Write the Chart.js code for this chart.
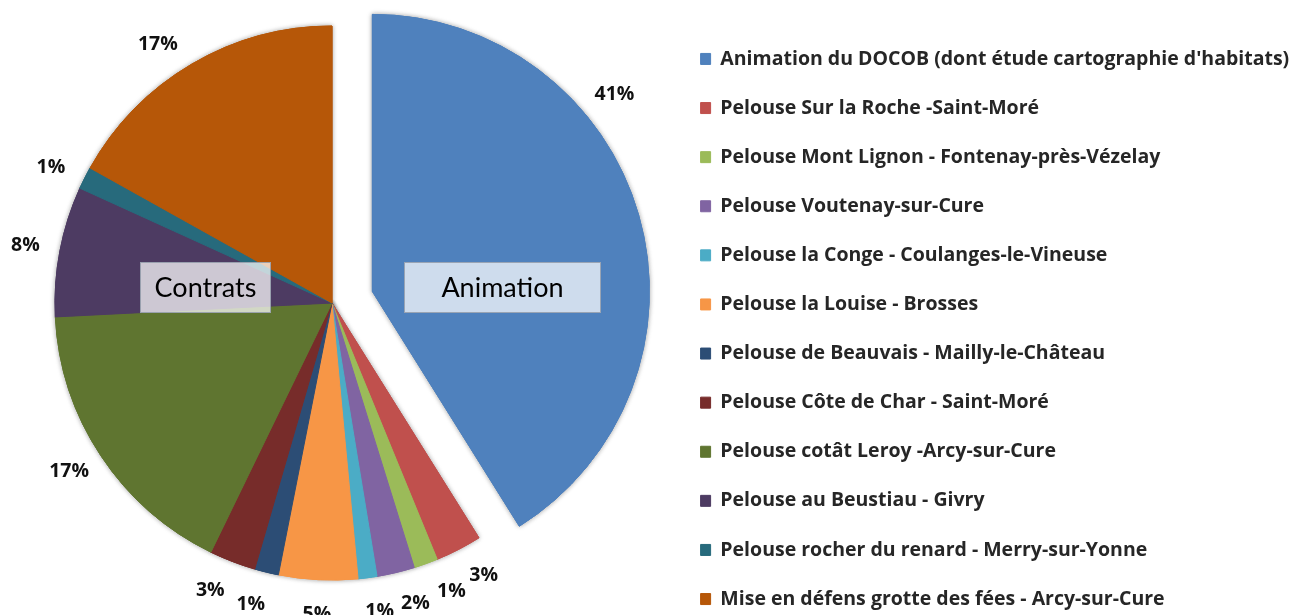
<!DOCTYPE html>
<html>
<head>
<meta charset="utf-8">
<script src="https://cdn.jsdelivr.net/npm/chart.js@4.4.1/dist/chart.umd.min.js"></script>
<style>
html,body{margin:0;padding:0;background:#fff;overflow:hidden;width:1296px;height:615px;}
#wrap{position:absolute;left:-7px;top:0;}
canvas{display:block;}
</style>
</head>
<body>
<div id="wrap"><canvas id="c"></canvas></div>
<script>
// ---- data ----
const categories = [
  "Animation du DOCOB (dont étude cartographie d'habitats)",
  "Pelouse Sur la Roche -Saint-Moré",
  "Pelouse Mont Lignon - Fontenay-près-Vézelay",
  "Pelouse Voutenay-sur-Cure",
  "Pelouse la Conge - Coulanges-le-Vineuse",
  "Pelouse la Louise - Brosses",
  "Pelouse de Beauvais - Mailly-le-Château",
  "Pelouse Côte de Char - Saint-Moré",
  "Pelouse cotât Leroy -Arcy-sur-Cure",
  "Pelouse au Beustiau - Givry",
  "Pelouse rocher du renard - Merry-sur-Yonne",
  "Mise en défens grotte des fées - Arcy-sur-Cure"
];
const shares = [41.1, 2.7, 1.4, 2.2, 1.1, 4.6, 1.4, 2.7, 17.0, 7.6, 1.3, 16.9];
const groupNames = ["Contrats", "Animation"];

// ---- styles ----
const colors = ['#4F81BD','#C0504D','#9BBB59','#8064A2','#4BACC6','#F79646',
                '#2C4D75','#772C2A','#5F7530','#4D3B62','#276A7C','#B65708'];
const EXPLODE = [42,0,0,0,0,0,0,0,0,0,0,0];
const PIE_R = 277;
const FONT = '"Open Sans"';
const LEG_FS = 19.5, LEG_PITCH = 49.1, LEG_BOXW = 10, LEG_BOXH = 11;
const LEG_PAD = LEG_PITCH - LEG_FS;
const FIRST_BOX_TOP = 52.7;
const Y0 = FIRST_BOX_TOP + 0.5 - (LEG_FS - LEG_BOXH) / 2;
const CANVAS_H = Math.round(2 * Y0 - LEG_PAD + categories.length * LEG_PITCH);
const CANVAS_W = 1340;
const CHART_RIGHT = 678;   // left edge of the legend box (canvas px)
const PIE_CY = 303;
const TITLE_PAD = (CANVAS_H - 2 * PIE_CY - 12) / 2;

const canvas = document.getElementById('c');
canvas.width = CANVAS_W; canvas.height = CANVAS_H;
canvas.style.width = CANVAS_W + 'px'; canvas.style.height = CANVAS_H + 'px';

// legend width as Chart.js computes it, so the pie area ends where wanted
const mctx = canvas.getContext('2d');
mctx.font = 'bold ' + LEG_FS + 'px ' + FONT;
const maxTextW = Math.max(...categories.map(t => mctx.measureText(t).width));
const legendW = LEG_PAD + LEG_BOXW + LEG_FS / 2 + maxTextW + 10;
const PAD_R = CANVAS_W - CHART_RIGHT - legendW;

function explodeOf(i){ return EXPLODE[i] || 0; }

const explodePlugin = {
  id: 'explodeSlices',
  afterUpdate(chart) {
    const meta = chart.getDatasetMeta(0);
    meta.data.forEach((el, i) => {
      const off = explodeOf(i);
      if (!off || el._exploded) return;
      const orig = el.draw;
      el.draw = function(ctx) {
        const mid = (this.startAngle + this.endAngle) / 2;
        ctx.save();
        ctx.translate(Math.cos(mid) * off, Math.sin(mid) * off);
        orig.call(this, ctx);
        ctx.restore();
      };
      el._exploded = true;
    });
  },
  beforeDatasetsDraw(chart) {
    const ctx = chart.ctx;
    const meta = chart.getDatasetMeta(0);
    ctx.save();
    ctx.shadowColor = 'rgba(0,0,0,0.35)';
    ctx.shadowBlur = 5;
    meta.data.forEach(el => el.draw(ctx));
    ctx.restore();
  }
};

const labelPlugin = {
  id: 'pctLabels',
  afterDatasetsDraw(chart, args, opts) {
    const meta = chart.getDatasetMeta(0);
    const vals = chart.data.datasets[0].data;
    const total = vals.reduce((a, b) => a + b, 0);
    const ctx = chart.ctx;
    ctx.save();
    ctx.font = opts.font;
    ctx.fillStyle = opts.color;
    ctx.textAlign = 'center';
    ctx.textBaseline = 'middle';
    meta.data.forEach((el, i) => {
      const mid = (el.startAngle + el.endAngle) / 2;
      const off = explodeOf(i);
      const cx = el.x + Math.cos(mid) * off, cy = el.y + Math.sin(mid) * off;
      const a = mid + (opts.nudge[i] || 0) * Math.PI / 180;
      const r = el.outerRadius + opts.gap;
      ctx.fillText(Math.round(vals[i] / total * 100) + '%', cx + Math.cos(a) * r, cy + Math.sin(a) * r);
    });
    // group text boxes
    const el0 = meta.data[0];
    ctx.font = opts.boxFont;
    opts.boxes.forEach((b, k) => {
      const x = el0.x + b.dx, y = el0.y + b.dy;
      ctx.fillStyle = 'rgba(255,255,255,0.72)';
      ctx.fillRect(x, y, b.w, b.h);
      ctx.strokeStyle = 'rgba(140,150,165,0.8)';
      ctx.lineWidth = 1;
      ctx.strokeRect(x + 0.5, y + 0.5, b.w - 1, b.h - 1);
      ctx.fillStyle = '#000';
      ctx.fillText(groupNames[k], x + b.w / 2, y + b.h / 2 + 1);
    });
    ctx.restore();
  }
};

Chart.defaults.font.family = FONT;

new Chart(canvas, {
  type: 'pie',
  data: {
    labels: categories,
    datasets: [{
      data: shares,
      backgroundColor: colors,
      borderColor: colors,
      borderWidth: 1
    }]
  },
  options: {
    responsive: false,
    animation: false,
    radius: PIE_R,
    events: [],
    layout: { padding: { left: 0, right: PAD_R, top: 0, bottom: 0 } },
    plugins: {
      tooltip: { enabled: false },
      title: {
        display: true, position: 'bottom', fullSize: false, text: '',
        font: { size: 10, lineHeight: 1.2 },
        padding: { top: TITLE_PAD, bottom: TITLE_PAD }
      },
      legend: {
        position: 'right',
        labels: {
          boxWidth: LEG_BOXW,
          boxHeight: LEG_BOXH,
          padding: LEG_PAD,
          color: '#262626',
          font: { size: LEG_FS, weight: 'bold', family: FONT }
        }
      },
      pctLabels: {
        font: 'bold 19.5px "Open Sans"',
        color: '#111',
        gap: 35,
        nudge: [-23.1, -1.9, -2.7, -2.2, -1.4, -0.1, 1.4, 1.9, 0.9, -0.1, -1.1, -3.5],
        boxFont: '27px Lato',
        boxes: [
          { dx: -192, dy: -41, w: 131, h: 51 },
          { dx: 72, dy: -41, w: 197, h: 51 }
        ]
      }
    }
  },
  plugins: [explodePlugin, labelPlugin]
});
</script>
</body>
</html>
